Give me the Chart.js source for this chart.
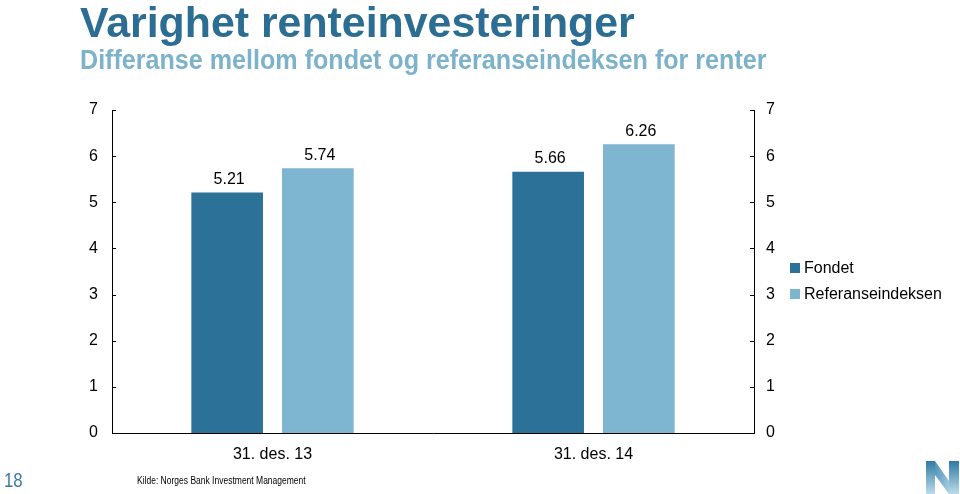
<!DOCTYPE html>
<html>
<head>
<meta charset="utf-8">
<script src="https://cdn.jsdelivr.net/npm/chart.js@4.4.1/dist/chart.umd.min.js"></script>
<style>
  html, body { margin: 0; padding: 0; background: #fff; }
  body { width: 960px; height: 494px; position: relative; overflow: hidden; font-family: "Liberation Sans", Arial, sans-serif; }
  #title { position: absolute; left: 80px; top: -1px; font-weight: bold; font-size: 42px; color: #2c6e93; white-space: nowrap; transform: scaleX(1.02); transform-origin: left top; }
  #subtitle { position: absolute; left: 80px; top: 45px; font-weight: bold; font-size: 27px; color: #7db2cb; white-space: nowrap; transform: scaleX(0.93); transform-origin: left top; }
  #chartWrap { position: absolute; left: 0; top: 0; width: 960px; height: 494px; }
  #legend { position: absolute; left: 790px; top: 258px; font-size: 16px; color: #000; }
  #legend div { height: 26px; line-height: 20px; white-space: nowrap; }
  #legend span.box { display: inline-block; width: 10px; height: 10px; margin-right: 4px; vertical-align: 0px; }
  #page { position: absolute; left: 4px; top: 468px; font-size: 21px; color: #3b7aa0; transform: scaleX(0.8); transform-origin: left top; }
  #source { position: absolute; left: 137px; top: 475px; font-size: 10px; color: #000; white-space: nowrap; transform: scaleX(0.85); transform-origin: left top; }
  #logo { position: absolute; left: 926px; top: 461px; }
</style>
</head>
<body>
<div id="chartWrap"><canvas id="chart" width="960" height="494"></canvas></div>
<div id="title">Varighet renteinvesteringer</div>
<div id="subtitle">Differanse mellom fondet og referanseindeksen for renter</div>
<div id="legend"></div>
<div id="page">18</div>
<div id="source">Kilde: Norges Bank Investment Management</div>
<svg id="logo" width="34" height="33" viewBox="0 0 34 33">
  <defs>
    <linearGradient id="g1" x1="0" y1="0" x2="0" y2="1">
      <stop offset="0" stop-color="#2f7aa3"/>
      <stop offset="1" stop-color="#bcdcea"/>
    </linearGradient>
    <linearGradient id="g2" x1="0" y1="0" x2="1" y2="1">
      <stop offset="0" stop-color="#4a8fb6"/>
      <stop offset="1" stop-color="#a9d1e4"/>
    </linearGradient>
  </defs>
  <polygon points="0,0 9,0 9,33 0,33" fill="url(#g1)"/>
  <polygon points="9,0 23,20 23,33 9,14" fill="url(#g2)"/>
  <polygon points="23,0 33,0 33,33 23,33" fill="url(#g1)"/>
</svg>
<script>
const categories = ["31. des. 13", "31. des. 14"];
const fondet = [5.21, 5.66];
const referanse = [5.74, 6.26];
const seriesNames = ["Fondet", "Referanseindeksen"];
const seriesColors = ["#2c7198", "#7eb5d1"];
const yTicks = [0, 1, 2, 3, 4, 5, 6, 7];

const tickFont = { family: "'Liberation Sans', Arial, sans-serif", size: 16 };

// small inward tick marks on both y axes, like the original
const innerTicks = {
  id: "innerTicks",
  afterDraw(chart) {
    const ctx = chart.ctx;
    const area = chart.chartArea;
    ctx.save();
    ctx.strokeStyle = "#000";
    ctx.lineWidth = 1;
    ["y", "y1"].forEach((id) => {
      const scale = chart.scales[id];
      const x = id === "y" ? area.left : area.right;
      const dir = id === "y" ? 1 : -1;
      yTicks.forEach((v) => {
        const py = Math.round(scale.getPixelForValue(v)) + 0.5;
        ctx.beginPath();
        ctx.moveTo(x, py);
        ctx.lineTo(x + dir * 4, py);
        ctx.stroke();
      });
    });
    ctx.restore();
  },
};

const valueLabels = {
  id: "valueLabels",
  afterDatasetsDraw(chart) {
    const ctx = chart.ctx;
    ctx.save();
    ctx.fillStyle = "#000";
    ctx.font = "16px 'Liberation Sans', Arial, sans-serif";
    ctx.textAlign = "center";
    ctx.textBaseline = "bottom";
    chart.data.datasets.forEach((ds, i) => {
      const meta = chart.getDatasetMeta(i);
      meta.data.forEach((bar, j) => {
        ctx.fillText(ds.data[j].toFixed(2), bar.x + 2, bar.y - 5);
      });
    });
    ctx.restore();
  },
};

const legendEl = document.getElementById("legend");
seriesNames.forEach((name, i) => {
  const row = document.createElement("div");
  row.innerHTML = '<span class="box" style="background:' + seriesColors[i] + '"></span>' + name;
  legendEl.appendChild(row);
});

const ctx = document.getElementById("chart").getContext("2d");
new Chart(ctx, {
  type: "bar",
  data: {
    labels: categories,
    datasets: [
      { label: seriesNames[0], data: fondet, backgroundColor: seriesColors[0], yAxisID: "y" },
      { label: seriesNames[1], data: referanse, backgroundColor: seriesColors[1], yAxisID: "y" },
    ],
  },
  options: {
    responsive: false,
    animation: false,
    categoryPercentage: 0.565,
    barPercentage: 0.79,
    layout: { padding: { left: 72, right: 166, top: 110, bottom: 31 } },
    plugins: {
      legend: { display: false },
      tooltip: { enabled: false },
    },
    scales: {
      x: {
        grid: { display: false, drawTicks: false },
        border: { color: "#000", width: 1 },
        ticks: { color: "#000", font: tickFont, padding: 12 },
        afterFit: (s) => { s.height = 30; },
      },
      y: {
        position: "left",
        min: 0,
        max: 7,
        grid: { display: false, drawTicks: false },
        border: { color: "#000", width: 1 },
        ticks: { stepSize: 1, color: "#000", font: tickFont, padding: 14 },
        afterFit: (s) => { s.width = 40; },
      },
      y1: {
        position: "right",
        min: 0,
        max: 7,
        grid: { display: false, drawTicks: false },
        border: { color: "#000", width: 1 },
        ticks: { stepSize: 1, color: "#000", font: tickFont, padding: 12 },
        afterFit: (s) => { s.width = 40; },
      },
    },
  },
  plugins: [innerTicks, valueLabels],
});
</script>
</body>
</html>
